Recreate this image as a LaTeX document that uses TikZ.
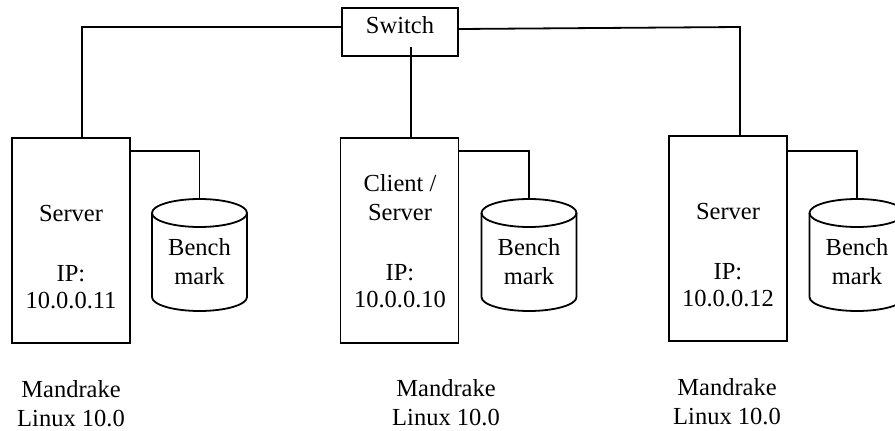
\documentclass[tikz,border=0pt]{standalone}
\usepackage{fontspec}
\setmainfont{Liberation Serif}
\usetikzlibrary{positioning}

\begin{document}
\begin{tikzpicture}[x=1pt,y=-1pt,font=\fontsize{24.5}{29}\selectfont]
      \tikzstyle{switchbox}=[draw, line width=1.8pt, minimum width=116pt, minimum height=48pt, inner sep=0pt, text depth=14pt]
      \tikzstyle{host}=[draw, line width=1.8pt, minimum width=118pt, minimum height=205pt, inner sep=0pt]
      \tikzstyle{host_text}=[align=center, inner sep=0pt]
      \tikzstyle{wire}=[line width=1.8pt]

      \clip (0,0) rectangle (895,431);

      \node [switchbox] (switch) at (400,32) {Switch};

      % left host
      \node [host] (srvL) at (71,240.5) {};
      \node [host_text] (srvL-txt) at (71,257) {Server\\[31pt]IP:\\[-2pt]10.0.0.11};
      \node [host_text] (osL) at (71,403.5) {Mandrake\\Linux 10.0};

      % middle host
      \node [host] (srvM) at (399.5,240.5) {};
      \node [host_text] (srvM-txt) at (400,241.5) {Client /\\Server\\[31pt]IP:\\[-2pt]10.0.0.10};
      \node [host_text] (osM) at (446,403) {Mandrake\\Linux 10.0};

      % right host
      \node [host] (srvR) at (728,238.5) {};
      \node [host_text] (srvR-txt) at (728,255) {Server\\[31pt]IP:\\[-2pt]10.0.0.12};
      \node [host_text] (osR) at (727,401.5) {Mandrake\\Linux 10.0};

      % benchmark disks
      \foreach \n/\x in {dbL/199.5, dbM/529, dbR/857} {
        \draw [wire] (\x,213) ellipse [x radius=47.5, y radius=14];
        \draw [wire] (\x-47.5,213) -- (\x-47.5,297) arc [start angle=180, end angle=0, x radius=47.5, y radius=14] -- (\x+47.5,213);
        \coordinate (\n-top) at (\x,199);
        \node [host_text] (\n) at (\x,262) {Bench\\mark};
      }

      % network
      \coordinate (tapM) at ([xshift=11pt,yshift=10pt]switch.south);
      \coordinate (tapR) at (740,27);
      \draw [wire] ([yshift=5pt]switch.west) -| ([xshift=11pt]srvL.north);
      \draw [wire] (tapM) -- (tapM |- srvM.north);
      \draw [wire] ([yshift=3pt]switch.east) -- (tapR) -- (tapR |- srvR.north);

      % disks
      \draw [wire] ([yshift=-14pt]srvL.north east) -| (dbL-top);
      \draw [wire] ([yshift=-14pt]srvM.north east) -| (dbM-top);
      \draw [wire] ([yshift=-16pt]srvR.north east) -| (dbR-top);
\end{tikzpicture}
\end{document}
